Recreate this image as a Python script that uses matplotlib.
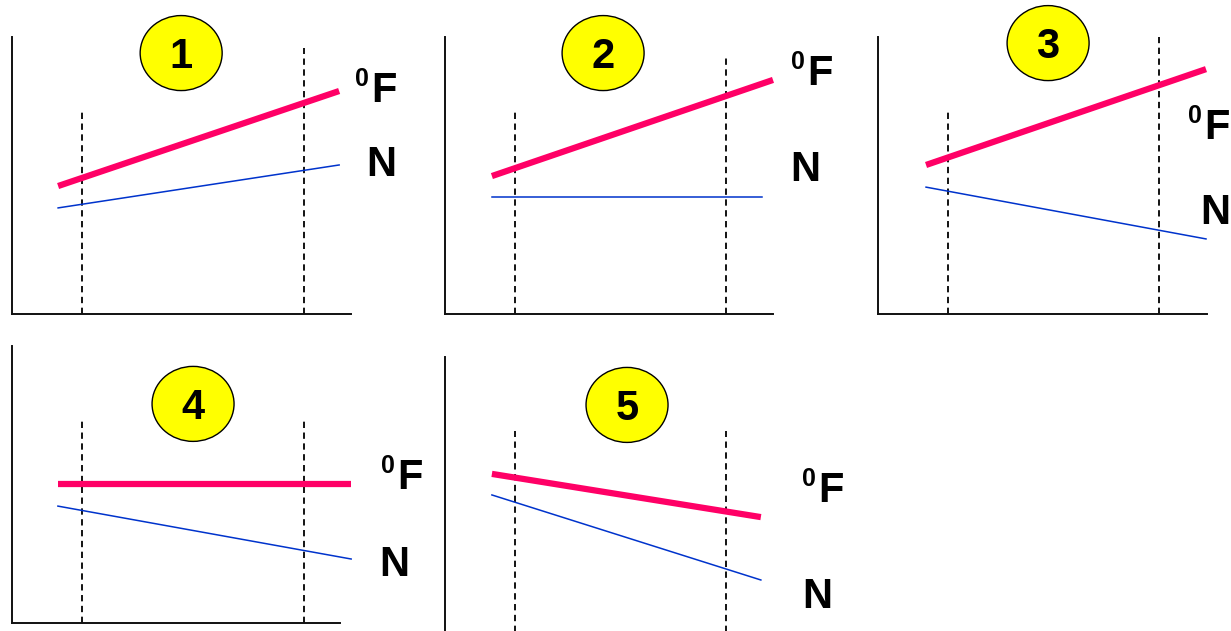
# Five schematic panels: temperature (0F) vs N over time

import matplotlib.pyplot as plt
from matplotlib.patches import Ellipse

plt.rcParams['font.family'] = ['Liberation Sans', 'DejaVu Sans']

# panel numbers
panels = [1, 2, 3, 4, 5]

# line start / end on a 0-10 time scale
x_start = [1.36, 1.43, 1.46, 1.40, 1.43]
x_end = [9.65, 10.0, 9.97, 10.34, 9.63]
x_end_n = [9.65, 9.66, 9.97, 10.34, 9.63]

# 0F line (thick red), values at start and end
f_start = [4.62, 4.98, 5.38, 5.02, 5.78]
f_end = [8.05, 8.45, 8.84, 5.02, 4.22]

# N line (thin blue), values at start and end
n_start = [3.83, 4.22, 4.58, 4.22, 5.02]
n_end = [5.38, 4.22, 2.71, 2.31, 1.95]

# dashed time markers and how high they reach
t1 = [2.06, 2.13, 2.13, 2.13, 2.13]
t2 = [8.61, 8.57, 8.54, 8.90, 8.57]
t1_top = [7.29, 7.29, 7.29, 7.33, 7.33]
t2_top = [9.60, 9.24, 10.0, 7.33, 7.33]

# number badge centre
badge_x = [4.99, 4.82, 5.17, 5.52, 5.55]
badge_y = [9.42, 9.42, 9.78, 7.91, 8.27]

# label positions (left edge, baseline)
f_lab = [(10.59, 7.65), (11.04, 8.27), (9.91, 6.32), (11.74, 4.84), (11.37, 4.77)]
n_lab = [(10.44, 4.98), (10.52, 4.80), (9.79, 3.25), (11.19, 1.70), (10.88, 0.94)]

W, H = 1231, 631
fig = plt.figure(figsize=(W / 100, H / 100), dpi=100)

# axes boxes in pixels: left, top, width, height
boxes = [(12, 37, 339, 277), (445, 37, 328, 277), (878, 37, 329, 277),
         (12, 346, 328, 277), (445, 357, 328, 277)]

red = '#FF0066'
blue = '#0033CC'

for i, p in enumerate(panels):
    l, t, w, h = boxes[i]
    ax = fig.add_axes([l / W, 1 - (t + h) / H, w / W, h / H])
    ax.set_xlim(0, 10)
    ax.set_ylim(0, 10)
    ax.set_xticks([])
    ax.set_yticks([])
    ax.patch.set_alpha(0)
    for s in ['top', 'right']:
        ax.spines[s].set_visible(False)
    for s in ['left', 'bottom']:
        ax.spines[s].set_linewidth(1.4)
        ax.spines[s].set_color('#111111')
    if p == 5:
        ax.spines['bottom'].set_visible(False)

    # dashed verticals
    ax.plot([t1[i], t1[i]], [0, t1_top[i]], color='black', lw=1.3, dashes=(3.5, 2.5), clip_on=False)
    ax.plot([t2[i], t2[i]], [0, t2_top[i]], color='black', lw=1.3, dashes=(3.5, 2.5), clip_on=False)

    # lines
    ax.plot([x_start[i], x_end[i]], [f_start[i], f_end[i]], color=red, lw=4.5,
            solid_capstyle='butt', clip_on=False)
    ax.plot([x_start[i], x_end_n[i]], [n_start[i], n_end[i]], color=blue, lw=1.1, clip_on=False)

    # yellow badge
    ew = 82 / w * 10
    eh = 75 / h * 10
    ax.add_patch(Ellipse((badge_x[i], badge_y[i]), ew, eh, facecolor='#FFFF00',
                         edgecolor='black', lw=1.0, clip_on=False, zorder=5))
    ax.annotate(str(p), xy=(badge_x[i], badge_y[i]), xytext=(0, -15),
                textcoords='offset pixels', ha='center', va='baseline',
                fontsize=30, fontweight='bold', zorder=6, annotation_clip=False)

    # labels
    fx, fy = f_lab[i]
    ax.text(fx, fy, 'F', ha='left', va='baseline', fontsize=30, fontweight='bold', clip_on=False)
    ax.annotate('0', xy=(fx, fy), xytext=(-2, 16), textcoords='offset pixels',
                ha='right', va='baseline', fontsize=18, fontweight='bold', annotation_clip=False)
    nx, ny = n_lab[i]
    ax.text(nx, ny, 'N', ha='left', va='baseline', fontsize=30, fontweight='bold', clip_on=False)

fig.savefig('out.png', dpi=100)
